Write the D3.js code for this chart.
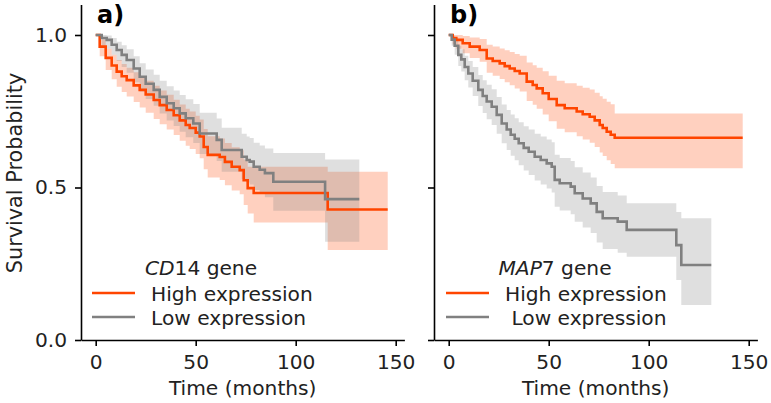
<!DOCTYPE html>
<html>
<head>
<meta charset="utf-8">
<script src="https://cdn.jsdelivr.net/npm/d3@7"></script>
<style>
  body { margin: 0; background: white; }
  svg text { font-family: "DejaVu Sans", sans-serif; }
</style>
</head>
<body>
<div id="chart"></div>
<script>

// ticks shared by both panels
const X_TICKS = [0, 50, 100, 150];
const Y_TICKS = [0, 0.5, 1.0];

// a) CD14, high expression (times in months, survival, CI low, CI high)
const cd14HighT  = [0, 2, 5, 8, 10.5, 13, 15.5, 19, 22, 25, 29, 32, 35.5, 39, 42, 45, 47, 50, 52, 54, 56, 62, 64.6, 68, 72, 74, 76, 79, 116, 146];
const cd14HighS  = [1.0, 0.962, 0.925, 0.9, 0.88, 0.865, 0.852, 0.835, 0.82, 0.805, 0.787, 0.77, 0.754, 0.737, 0.72, 0.705, 0.695, 0.68, 0.667, 0.633, 0.607, 0.6, 0.584, 0.568, 0.557, 0.524, 0.498, 0.482, 0.428, 0.428];
const cd14HighLo = [1.0, 0.93, 0.885, 0.855, 0.83, 0.813, 0.798, 0.78, 0.762, 0.745, 0.725, 0.707, 0.69, 0.672, 0.653, 0.637, 0.626, 0.61, 0.596, 0.56, 0.533, 0.525, 0.507, 0.49, 0.478, 0.443, 0.415, 0.385, 0.295, 0.295];
const cd14HighHi = [1.0, 0.985, 0.955, 0.935, 0.918, 0.905, 0.893, 0.878, 0.864, 0.85, 0.834, 0.818, 0.804, 0.788, 0.772, 0.758, 0.749, 0.735, 0.723, 0.692, 0.668, 0.661, 0.646, 0.632, 0.622, 0.592, 0.568, 0.568, 0.552, 0.552];

// a) CD14, low expression
const cd14LowT  = [0, 3, 5.5, 8, 10.5, 13, 15.5, 19, 22, 25, 29, 32, 35.5, 39, 42, 45, 48.8, 52, 60.5, 63, 73, 75.5, 77, 79, 82, 84.6, 88.8, 114.7, 131.8];
const cd14LowS  = [1.0, 0.99, 0.984, 0.968, 0.951, 0.935, 0.918, 0.89, 0.863, 0.84, 0.82, 0.797, 0.776, 0.76, 0.743, 0.727, 0.71, 0.677, 0.656, 0.623, 0.601, 0.59, 0.585, 0.568, 0.558, 0.547, 0.519, 0.462, 0.462];
const cd14LowLo = [1.0, 0.965, 0.955, 0.935, 0.915, 0.895, 0.876, 0.845, 0.815, 0.79, 0.768, 0.743, 0.72, 0.702, 0.683, 0.665, 0.646, 0.61, 0.587, 0.552, 0.528, 0.516, 0.51, 0.492, 0.48, 0.468, 0.424, 0.322, 0.322];
const cd14LowHi = [1.0, 1.0, 0.998, 0.99, 0.978, 0.966, 0.953, 0.93, 0.907, 0.887, 0.87, 0.85, 0.832, 0.818, 0.803, 0.789, 0.774, 0.745, 0.726, 0.696, 0.676, 0.667, 0.662, 0.647, 0.638, 0.628, 0.613, 0.592, 0.592];

// b) MAP7, high expression
const map7HighT  = [0, 2, 3.8, 7, 10.5, 15.5, 19, 22, 25.5, 28, 30.5, 33, 35.5, 39, 42, 44, 47, 50, 54, 58, 64, 67, 70.5, 73, 75.5, 77, 79, 81, 83, 147];
const map7HighS  = [1.0, 0.99, 0.984, 0.973, 0.962, 0.951, 0.923, 0.915, 0.907, 0.898, 0.89, 0.882, 0.874, 0.847, 0.836, 0.825, 0.809, 0.79, 0.77, 0.76, 0.749, 0.74, 0.732, 0.72, 0.705, 0.695, 0.683, 0.673, 0.663, 0.663];
const map7HighLo = [1.0, 0.97, 0.955, 0.94, 0.925, 0.912, 0.876, 0.866, 0.856, 0.845, 0.835, 0.825, 0.815, 0.784, 0.771, 0.758, 0.739, 0.717, 0.693, 0.681, 0.668, 0.657, 0.647, 0.633, 0.615, 0.603, 0.589, 0.577, 0.563, 0.563];
const map7HighHi = [1.0, 1.0, 1.0, 0.997, 0.992, 0.987, 0.968, 0.962, 0.956, 0.95, 0.944, 0.938, 0.932, 0.91, 0.901, 0.893, 0.881, 0.866, 0.85, 0.842, 0.834, 0.827, 0.821, 0.811, 0.799, 0.791, 0.781, 0.773, 0.743, 0.743];

// b) MAP7, low expression
const map7LowT  = [0, 1.5, 3, 4.8, 6.3, 8, 9.8, 12, 14.8, 17, 19, 21.5, 24, 26.5, 29, 31, 33, 35, 37.5, 40, 43, 46, 49, 51.5, 53, 55.5, 61, 63, 67, 71, 74, 77, 84.5, 89, 113.8, 116.3, 131.3];
const map7LowS  = [1.0, 0.985, 0.965, 0.935, 0.92, 0.895, 0.874, 0.85, 0.82, 0.8, 0.782, 0.765, 0.738, 0.71, 0.69, 0.673, 0.66, 0.645, 0.63, 0.617, 0.601, 0.59, 0.579, 0.568, 0.525, 0.514, 0.503, 0.481, 0.464, 0.448, 0.42, 0.399, 0.388, 0.361, 0.311, 0.246, 0.246];
const map7LowLo = [1.0, 0.965, 0.935, 0.898, 0.88, 0.852, 0.828, 0.8, 0.767, 0.744, 0.724, 0.705, 0.676, 0.645, 0.623, 0.604, 0.589, 0.573, 0.556, 0.541, 0.523, 0.51, 0.497, 0.484, 0.437, 0.425, 0.412, 0.388, 0.369, 0.351, 0.32, 0.298, 0.286, 0.273, 0.197, 0.115, 0.115];
const map7LowHi = [1.0, 0.998, 0.988, 0.965, 0.953, 0.932, 0.915, 0.895, 0.869, 0.852, 0.837, 0.822, 0.797, 0.772, 0.754, 0.739, 0.727, 0.714, 0.701, 0.69, 0.676, 0.667, 0.657, 0.648, 0.607, 0.597, 0.587, 0.566, 0.549, 0.533, 0.505, 0.485, 0.474, 0.448, 0.42, 0.399, 0.399];

const HIGH_COLOR = "#ff4500";
const LOW_COLOR = "#808080";
const FONT_SIZE = 20.2;

const svg = d3.select("#chart")
  .append("svg")
  .attr("width", 771)
  .attr("height", 403);

// zip arrays into rows for the step generators
function rows(t, s, lo, hi) {
  return t.map(function(v, i) {
    return { t: v, s: s[i], lo: lo[i], hi: hi[i] };
  });
}

function drawPanel(cfg) {
  const x = d3.scaleLinear().domain([-7.35, 154.35]).range([cfg.left, cfg.left + 323.4]);
  const y = d3.scaleLinear().domain([0, 1.1]).range([340, 4.5]);

  const g = svg.append("g");

  const band = d3.area()
    .curve(d3.curveStepAfter)
    .x(d => x(d.t))
    .y0(d => y(d.lo))
    .y1(d => y(d.hi));

  const line = d3.line()
    .curve(d3.curveStepAfter)
    .x(d => x(d.t))
    .y(d => y(d.s));

  // bands first (under both lines), like matplotlib's zorder
  cfg.series.forEach(function(sr) {
    g.append("path")
      .attr("d", band(sr.data))
      .attr("fill", sr.color)
      .attr("fill-opacity", 0.25);
  });
  cfg.series.forEach(function(sr) {
    g.append("path")
      .attr("d", line(sr.data))
      .attr("fill", "none")
      .attr("stroke", sr.color)
      .attr("stroke-width", 2.6);
  });

  // axes
  const xAxis = g.append("g")
    .attr("transform", "translate(0,340)")
    .call(d3.axisBottom(x).tickValues(X_TICKS).tickSize(6).tickSizeOuter(0).tickPadding(9));

  const yAxis = g.append("g")
    .attr("transform", `translate(${cfg.left},0)`)
    .call(d3.axisLeft(y).tickValues(Y_TICKS).tickSize(6).tickSizeOuter(0).tickPadding(8)
      .tickFormat(cfg.yLabels ? d3.format(".1f") : ""));

  [xAxis, yAxis].forEach(function(a) {
    a.selectAll("path, line").attr("stroke", "#000").attr("stroke-width", 1.6);
    a.selectAll("text").attr("fill", "#222").style("font-size", FONT_SIZE + "px")
      .style("font-family", "DejaVu Sans");
  });

  g.append("text")
    .attr("x", x(73.5))
    .attr("y", 395)
    .attr("text-anchor", "middle")
    .style("font-size", FONT_SIZE + "px")
    .attr("fill", "#222")
    .text("Time (months)");

  // panel letter
  g.append("text")
    .attr("x", cfg.left + 16)
    .attr("y", 23)
    .style("font-size", "24px")
    .style("font-weight", "bold")
    .text(cfg.letter);

  // legend
  const lg = g.append("g");
  const title = lg.append("text")
    .attr("x", cfg.legendX + 109)
    .attr("y", 275)
    .attr("text-anchor", "middle")
    .style("font-size", FONT_SIZE + "px")
    .attr("fill", "#222");
  title.append("tspan").style("font-style", "italic").text(cfg.geneItalic);
  title.append("tspan").text(cfg.geneRest + " gene");

  cfg.series.forEach(function(sr, i) {
    const ly = 293 + i * 24;
    lg.append("line")
      .attr("x1", cfg.legendX).attr("x2", cfg.legendX + 43)
      .attr("y1", ly).attr("y2", ly)
      .attr("stroke", sr.color)
      .attr("stroke-width", 2.6);
    lg.append("text")
      .attr("x", cfg.legendX + 59)
      .attr("y", ly + 8)
      .style("font-size", FONT_SIZE + "px")
      .style("white-space", "pre")
      .attr("fill", "#222")
      .text(sr.label);
  });
}

drawPanel({
  left: 81,
  letter: "a)",
  yLabels: true,
  geneItalic: "CD",
  geneRest: "14",
  legendX: 92,
  series: [
    { color: HIGH_COLOR, label: "High expression", data: rows(cd14HighT, cd14HighS, cd14HighLo, cd14HighHi) },
    { color: LOW_COLOR, label: "Low expression", data: rows(cd14LowT, cd14LowS, cd14LowLo, cd14LowHi) }
  ]
});

drawPanel({
  left: 434,
  letter: "b)",
  yLabels: false,
  geneItalic: "MAP",
  geneRest: "7",
  legendX: 446,
  series: [
    { color: HIGH_COLOR, label: "High expression", data: rows(map7HighT, map7HighS, map7HighLo, map7HighHi) },
    { color: LOW_COLOR, label: " Low expression", data: rows(map7LowT, map7LowS, map7LowLo, map7LowHi) }
  ]
});

// y axis label, left panel only
svg.append("text")
  .attr("transform", "translate(22,173) rotate(-90)")
  .attr("text-anchor", "middle")
  .style("font-size", "20.8px")
  .attr("fill", "#222")
  .text("Survival Probability");

</script>
</body>
</html>
